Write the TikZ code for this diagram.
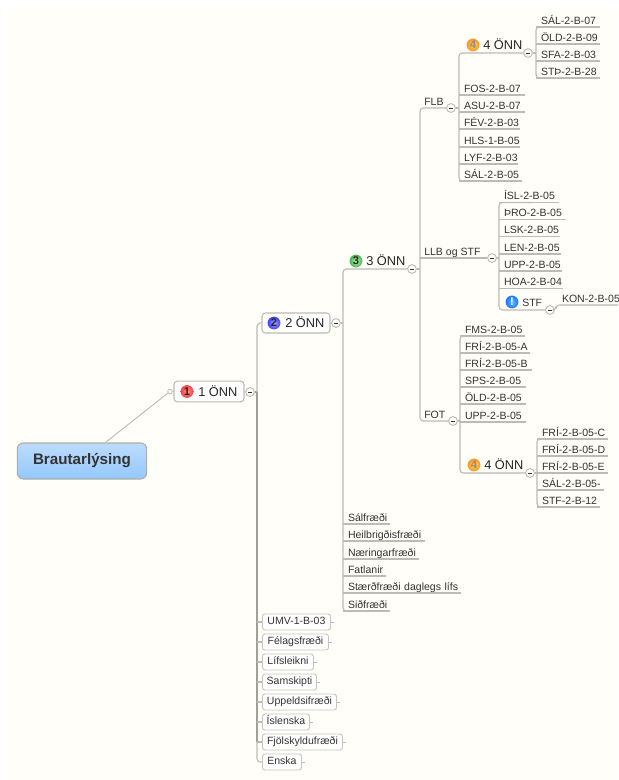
\documentclass[tikz,border=0pt]{standalone}
\usepackage{fontspec}
\setmainfont{Liberation Sans}
\definecolor{paper}{HTML}{FFFEF8}
\definecolor{lnk}{HTML}{BDBBB3}
\definecolor{ink}{HTML}{333333}
\definecolor{rootT}{HTML}{BCDCFA}
\definecolor{rootB}{HTML}{94C8FF}
\begin{document}
\begin{tikzpicture}[x=0.75pt,y=-0.75pt,
  link/.style={draw=lnk,line width=0.85pt,line join=round},
  trunk/.style={link,rounded corners=2.5pt},
  heavy/.style={draw=lnk!85!black,line width=1.2pt},
  leaf/.style={anchor=south west,inner sep=0pt,outer sep=0pt,text height=6.4pt,text depth=2.2pt,align=left,text=ink,font=\fontsize{7.9}{9}\selectfont},
  head/.style={anchor=base west,inner sep=0pt,text=black!85,font=\fontsize{9.6}{11}\selectfont},
  lab/.style={anchor=base west,inner sep=0pt,text=ink,font=\fontsize{7.9}{9}\selectfont},
  tbox/.style={draw=lnk!85,fill=white,rounded corners=1.8pt,line width=0.7pt,anchor=west,inner sep=0pt,align=center,text=ink,minimum height=12pt,text height=5.8pt,text depth=1.7pt,font=\fontsize{7.9}{9}\selectfont},
  hbox/.style={draw=lnk,fill=white,rounded corners=2.5pt,line width=0.8pt,inner sep=0pt,anchor=center},
  coll/.style={circle,draw=lnk,fill=white,line width=0.7pt,minimum size=6.6pt,inner sep=0pt,
     path picture={\draw[ink,line width=0.5pt] ([xshift=-1.5pt]path picture bounding box.center) -- ([xshift=1.5pt]path picture bounding box.center);}},
  ico/.style 2 args={circle,inner color=#1,outer color=#2,minimum size=9.6pt,inner sep=0pt,text=black!85,font=\fontsize{8.4}{8}\bfseries\selectfont},
]
\useasboundingbox (0,0) rectangle (618,780);
\fill[white] (0,0) rectangle (618,780);
\fill[paper] (8,8) rectangle (618,780);

% --- central node and first level
\node[draw=black!32,rounded corners=4.5pt,line width=0.8pt,top color=rootT,bottom color=rootB,minimum width=97pt,minimum height=27pt,inner sep=0pt,text=ink,font=\fontsize{11.4}{12}\bfseries\selectfont] (root) at (82,461) {Brautarlýsing};
\node[hbox,minimum width=52.5pt,minimum height=15.5pt] (n1) at (209,391.5) {};
\node[ico={red!45!white}{red!75!white}] (i1) at (187,391.5) {1};
\node[head] (t1) at (198,396) {1 ÖNN};
\node[circle,draw=lnk,fill=white,line width=0.6pt,minimum size=3.4pt,inner sep=0pt] (o1) at (170,391.5) {};
\coordinate (rs) at (106,442);
\draw[link,line width=0.7pt] (rs) -- (o1);
\draw[link,line width=0.6pt] (o1) -- (n1.west);
\node[coll] (c1) at (250,392) {};
\coordinate (tA) at (257,392);
\draw[link,line width=0.6pt] (n1.east) -- (c1);

% --- 2 ONN
\node[hbox,minimum width=51pt,minimum height=15pt] (n2) at (296,323) {};
\node[ico={blue!35!white}{blue!75!white}] (i2) at (274,323) {2};
\node[head] (t2) at (285,327.5) {2 ÖNN};
\node[coll] (c2) at (336,323) {};
\draw[link,line width=0.6pt] (n2.east) -- (c2);
\coordinate (tB) at (343,323);

% --- boxes on first trunk
\foreach \nm/\bw/\y/\tx in {b1/68/622/UMV-1-B-03,b2/66/642/Félagsfræði,b3/51/662/Lífsleikni,b4/54/682/Samskipti,b5/74/702/Uppeldsifræði,b6/47/722/Íslenska,b7/80/742/Fjölskyldufræði,b8/39/762/Enska}{
  \node[tbox,minimum width=\bw*0.75pt] (\nm) at (262,\y) {\tx};
  \draw[link,line width=0.6pt] (\nm.east) -- ++(3,0);
}
\draw[heavy] (c1) -- (tA);
\draw[trunk] (n2.west) -- (tA|-n2.west) -- (tA);
\draw[heavy] (tA) -- (tA|-b7.west);
\draw[trunk] (tA|-b7.west) -- (tA|-b8.west) -- (b8.west);
\foreach \nm in {b1,b2,b3,b4,b5,b6,b7}{\draw[link] (tA|-\nm.west) -- (\nm.west);}

% --- 3 ONN
\node[ico={green!30!white}{green!55!black!70!white}] (i3) at (356,261) {3};
\node[head] (t3) at (366,265.5) {3 ÖNN};
\node[coll] (c3) at (412,269) {};
\coordinate (tC) at (420,269);

% leaves under 3 ONN
\foreach \nm/\y/\e/\tx in {s1/524/390/Sálfræði,s2/541/425/Heilbrigðisfræði,s3/559/419/Næringarfræði,s4/576/386/Fatlanir,s5/593/461/Stærðfræði daglegs lífs,s6/611/390/Siðfræði}{
  \pgfmathsetlengthmacro{\lw}{(\e-348)*0.75pt}
  \node[leaf,text width=\lw] (\nm) at (348,\y) {\mbox{\tx}};
  \draw[link] (tB|-\nm.south) -- (\nm.south east);
}
\draw[trunk] (c3) -- (tB|-c3) -- (tB|-s6.south) -- (s6.south);
\draw[link] (c2) -- (tB);
\draw[link] (c3) -- (tC);

% --- FLB
\node[lab] (tFLB) at (424,105.5) {FLB};
\node[coll] (cF) at (451,108) {};
\coordinate (tD) at (459,108);
\draw[link] (cF) -- (tD);
\node[ico={yellow!60!orange!70!white}{orange!85!white}] (i4a) at (473,45) {\textcolor{black!45}{4}};
\node[head] (t4a) at (483,49.5) {4 ÖNN};
\node[coll] (c4a) at (528,53) {};
\coordinate (tE) at (536,53);
\draw[link] (c4a) -- (tE);
\foreach \nm/\y/\e/\tx in {a1/27/600/SÁL-2-B-07,a2/44/600/ÖLD-2-B-09,a3/61/600/SFA-2-B-03,a4/78/600/STÞ-2-B-28}{
  \pgfmathsetlengthmacro{\lw}{(\e-541)*0.75pt}
  \node[leaf,text width=\lw] (\nm) at (541,\y) {\mbox{\tx}};
  \draw[link] (tE|-\nm.south) -- (\nm.south east);
}
\draw[trunk] (a1.south) -- (tE|-a1.south) -- (tE|-a4.south) -- (a4.south);
\foreach \nm/\y/\e/\tx in {f1/95/525/FOS-2-B-07,f2/112/525/ASU-2-B-07,f3/129/520/FÉV-2-B-03,f4/147/520/HLS-1-B-05,f5/164/518/LYF-2-B-03,f6/181/522/SÁL-2-B-05}{
  \pgfmathsetlengthmacro{\lw}{(\e-464)*0.75pt}
  \node[leaf,text width=\lw] (\nm) at (464,\y) {\mbox{\tx}};
  \draw[link] (tD|-\nm.south) -- (\nm.south east);
}
\draw[trunk] (c4a) -- (tD|-c4a) -- (tD|-f6.south) -- (f6.south);

% --- LLB og STF
\node[lab] (tLLB) at (424,255.5) {LLB og STF};
\node[coll] (cL) at (492,258) {};
\coordinate (tF) at (499,258);
\draw[link] (cL) -- (tF);
\foreach \nm/\y/\e/\tx in {l1/202.5/559/ÍSL-2-B-05,l2/219.5/566/ÞRO-2-B-05,l3/236.5/560/LSK-2-B-05,l4/254/561/LEN-2-B-05,l5/271/562/UPP-2-B-05,l6/288.5/563/HOA-2-B-04}{
  \pgfmathsetlengthmacro{\lw}{(\e-504)*0.75pt}
  \node[leaf,text width=\lw] (\nm) at (504,\y) {\mbox{\tx}};
  \draw[link] (tF|-\nm.south) -- (\nm.south east);
}
\node[ico={cyan!55!blue!60!white}{blue!60!cyan!90!white},text=white] (iS) at (512,302) {!};
\node[lab] (tS) at (522,306.5) {STF};
\node[coll] (cS) at (550,310) {};
\draw[trunk] (l1.south) -- (tF|-l1.south) -- (tF|-cS) -- (cS);
\node[leaf,text width=42pt] (k1) at (562,305) {\mbox{KON-2-B-05}};
\coordinate (kE) at (618,305);
\draw[trunk] (cS) -- ++(6,0) -- ++(0,-5) -- (kE);

% --- FOT
\node[lab] (tFOT) at (424,418.5) {FOT};
\node[coll] (cO) at (453,421) {};
\coordinate (tG) at (460,421);
\draw[link] (cO) -- (tG);
\draw[trunk] (cF) -- (tC|-cF) -- (tC|-cO) -- (cO);
\draw[link] (tC|-cL) -- (cL);
\foreach \nm/\y/\e/\tx in {o2/336/525/FMS-2-B-05,o3/353/530/FRÍ-2-B-05-A,o4/370/532/FRÍ-2-B-05-B,o5/387/526/SPS-2-B-05,o6/404/526/ÖLD-2-B-05,o7/422/526/UPP-2-B-05}{
  \pgfmathsetlengthmacro{\lw}{(\e-465)*0.75pt}
  \node[leaf,text width=\lw] (\nm) at (465,\y) {\mbox{\tx}};
  \draw[link] (tG|-\nm.south) -- (\nm.south east);
}
\node[ico={yellow!60!orange!70!white}{orange!85!white}] (i4b) at (474,465) {\textcolor{black!45}{4}};
\node[head] (t4b) at (484,469.5) {4 ÖNN};
\node[coll] (c4b) at (530,473) {};
\draw[trunk] (o2.south) -- (tG|-o2.south) -- (tG|-c4b) -- (c4b);
\coordinate (tH) at (537,473);
\draw[link] (c4b) -- (tH);
\foreach \nm/\y/\e/\tx in {p1/439/608/FRÍ-2-B-05-C,p2/456/608/FRÍ-2-B-05-D,p3/473/608/FRÍ-2-B-05-E,p4/490/604/SÁL-2-B-05-,p5/507/600/STF-2-B-12}{
  \pgfmathsetlengthmacro{\lw}{(\e-542)*0.75pt}
  \node[leaf,text width=\lw] (\nm) at (542,\y) {\mbox{\tx}};
  \draw[link] (tH|-\nm.south) -- (\nm.south east);
}
\draw[trunk] (p1.south) -- (tH|-p1.south) -- (tH|-p5.south) -- (p5.south);
\end{tikzpicture}
\end{document}
